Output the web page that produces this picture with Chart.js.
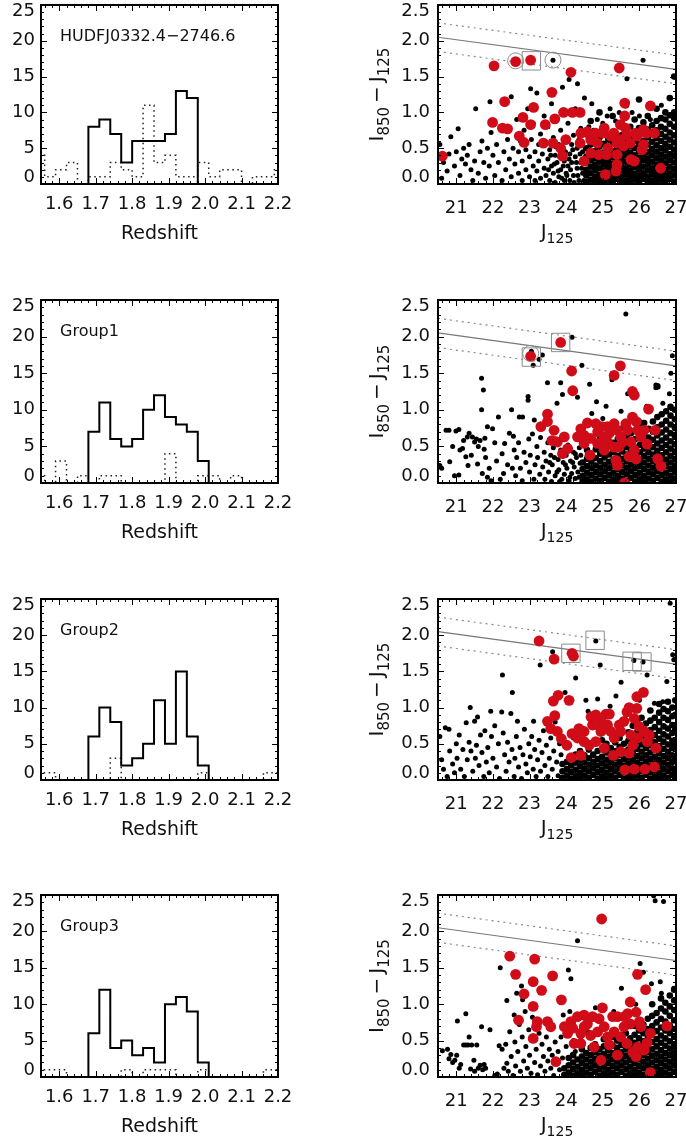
<!DOCTYPE html>
<html>
<head>
<meta charset="utf-8">
<title>HUDFJ0332.4-2746.6 and groups</title>
<script src="https://cdn.jsdelivr.net/npm/chart.js@4.4.1/dist/chart.umd.min.js"></script>
<style>
  html, body { margin: 0; background: #fff; }
  #fig { position: relative; width: 686px; height: 1137px; overflow: hidden; background: #fff; }
  #fig canvas { position: absolute; }
</style>
</head>
<body>
<div id="fig"></div>
<script>
// ---------- histogram data (redshift bins, counts) ----------
const zBins = [1.53, 1.56, 1.59, 1.62, 1.65, 1.68, 1.71, 1.74, 1.77, 1.80, 1.83, 1.86,
               1.89, 1.92, 1.95, 1.98, 2.01, 2.04, 2.07, 2.10, 2.13, 2.16, 2.19];
const zTicks = [1.6, 1.7, 1.8, 1.9, 2.0, 2.1, 2.2];
const countTicks = [0, 5, 10, 15, 20, 25];

const HUDF_SOLID = [0,0,0,0,0,8,9,7,3,6,6,6,7,13,12,0,0,0,0,0,0,0,0];
const HUDF_DOT   = [4,1,2,3,0,1,1,3,2,1,11,3,4,1,1,3,1,2,2,0,1,1,2];
const G1_SOLID   = [0,0,0,0,0,7,11,6,5,6,10,12,9,8,7,3,0,0,0,0,0,0,0];
const G1_DOT     = [1,0,3,0,1,0,1,1,0,0,0,0,4,0,0,1,1,0,1,0,0,0,0];
const G2_SOLID   = [0,0,0,0,0,6,10,8,2,3,5,11,5,15,6,2,0,0,0,0,0,0,0];
const G2_DOT     = [1,1,0,0,0,0,0,3,0,0,0,0,0,0,0,1,0,0,0,0,0,1,1];
const G3_SOLID   = [0,0,0,0,0,6,12,4,5,3,4,2,10,11,9,2,0,0,0,0,0,0,0];
const G3_DOT     = [1,1,1,0,0,0,0,0,1,0,1,1,1,0,0,1,0,0,0,0,0,1,1];

// ---------- colour-magnitude data (J125, I850-J125) ----------
const magTicks = [21, 22, 23, 24, 25, 26, 27];
const colorTicks = [0, 0.5, 1.0, 1.5, 2.0, 2.5];
const relX  = [20.5, 27];
const relMid = [2.05, 1.60];
const relHi  = [2.25, 1.80];
const relLo  = [1.85, 1.40];

// members (red), flat x,y pairs
const HUDF_RED = [20.62,.39, 22.03,1.65, 22.62,1.71, 23.03,1.73, 25.45,1.62, 24.13,1.56, 23.61,1.28, 22.32,1.15,
  23.11,1.07, 25.6,1.13, 26.3,1.09, 22.82,.93, 23.69,.91, 23.93,1.0, 24.17,1.0, 24.38,1.0, 25.6,.95, 21.99,.86,
  23.03,.83, 23.43,.83, 22.26,.78, 22.4,.77, 22.72,.67, 22.85,.58, 23.38,.57, 23.64,.57, 23.99,.62, 23.85,.5,
  23.9,.39, 24.4,.71, 24.38,.57, 24.58,.73, 24.67,.62, 24.8,.71, 24.85,.57, 24.99,.71, 25.04,.78, 25.22,.67,
  25.3,.71, 25.48,.83, 25.39,.57, 25.57,.53, 25.62,.78, 25.66,.69, 25.14,.5, 24.89,.41, 24.67,.43, 24.49,.32,
  25.1,.41, 25.39,.41, 25.77,.34, 25.86,.32, 25.39,.27, 25.36,.18, 25.07,.13, 25.89,.71, 26.11,.76, 25.94,.67,
  26.19,.71, 26.41,.71, 26.11,.55, 26.07,.48, 26.58,.22, 25.75,.57, 25.48,.62];
const G1_RED = [23.03,1.73, 23.85,1.92, 24.15,1.53, 24.18,1.26, 25.31,1.47, 25.48,1.6, 25.81,1.25, 25.86,1.2,
  26.25,1.01, 23.49,.94, 23.31,.77, 23.49,.84, 23.67,.72, 23.61,.58, 23.76,.56, 23.9,.4, 24.04,.47, 23.95,.63,
  24.4,.74, 24.49,.65, 24.58,.82, 24.67,.61, 24.65,.38, 24.81,.81, 24.86,.7, 24.97,.77, 25.04,.63, 25.13,.56,
  25.18,.68, 25.31,.81, 25.31,.49, 25.4,.72, 25.49,.63, 25.54,.56, 25.63,.81, 25.68,.72, 25.77,.56, 25.81,.9,
  25.91,.84, 25.95,.72, 26.04,.63, 26.13,.72, 26.21,.53, 26.43,.72, 25.36,.31, 25.4,.24, 25.72,.36, 25.91,.33,
  25.86,.45, 26.5,.33, 26.59,.23, 25.59,0.0, 25.04,.45, 24.86,.54, 24.49,.54, 24.31,.63, 25.13,.77, 25.44,.49];
const G2_RED = [23.26,1.92, 23.67,1.67, 24.16,1.75, 24.2,1.71, 23.65,1.09, 23.78,1.17, 24.08,1.1, 25.93,1.15,
  26.11,1.21, 23.49,.81, 23.69,.89, 23.58,.71, 23.76,.67, 23.87,.57, 24.02,.48, 24.14,.31, 24.4,.34, 24.16,.64,
  24.35,.71, 24.49,.53, 24.63,.48, 24.68,.87, 24.72,.76, 24.86,.76, 24.81,.53, 24.95,.67, 25.04,.44, 25.09,.91,
  25.18,.91, 25.13,.76, 25.22,.67, 25.31,.58, 25.29,.34, 25.45,.76, 25.49,.67, 25.58,.81, 25.66,.94, 25.72,1.0,
  25.77,.62, 25.82,.48, 25.49,.39, 25.72,.37, 25.6,.14, 25.86,.15, 26.15,.15, 26.41,.18, 25.86,.85, 25.93,.99,
  25.99,.74, 26.13,.67, 26.27,.62, 26.22,.53, 26.45,.44, 25.95,.58, 24.95,.85, 24.81,.9, 24.49,.67, 24.31,.58];
const G3_RED = [24.97,2.17, 22.46,1.66, 23.14,1.62, 22.62,1.41, 23.1,1.31, 23.63,1.39, 23.33,1.19, 22.85,1.14,
  23.87,1.06, 23.1,.97, 24.99,.95, 25.95,1.41, 26.17,1.2, 25.75,1.03, 22.7,.78, 23.21,.76, 23.19,.69, 23.1,.53,
  23.49,.76, 23.58,.69, 23.72,.21, 23.95,.69, 24.04,.6, 24.13,.76, 24.18,.67, 24.22,.46, 24.31,.83, 24.4,.6,
  24.49,.85, 24.58,.73, 24.67,.57, 24.76,.41, 24.72,.83, 24.9,.8, 24.95,.23, 24.86,.62, 25.04,.69, 25.13,.55,
  25.18,.44, 25.27,.83, 25.4,.83, 25.4,.3, 25.31,.62, 25.49,.55, 25.59,.83, 25.68,.87, 25.75,.73, 25.66,.46,
  25.82,.34, 25.91,.28, 25.91,.89, 26.0,.76, 26.04,.69, 25.95,.41, 26.13,.37, 26.21,.47, 26.3,.6, 26.75,.7,
  26.3,.06, 25.58,.69, 24.49,.69, 24.4,.46];

// field galaxies (black): scattered points as x,y pairs ...
const HUDF_FIELD = [20.55,.55, 20.6,.08, 20.65,.3, 20.75,.18, 20.8,.42, 20.85,.66, 20.95,.25, 21.0,.45, 21.05,.77,
  21.1,.12, 21.15,.35, 21.2,.5, 21.25,.28, 21.3,.4, 21.35,.55, 21.4,.2, 21.45,.05, 21.5,.32, 21.53,1.05, 21.6,.15,
  21.65,.45, 21.7,.6, 21.75,.3, 21.8,.08, 21.85,.5, 21.9,.25, 21.92,1.15, 21.95,.72, 22.0,.4, 22.05,.12, 22.1,.55,
  22.15,.3, 22.2,.8, 22.25,.05, 22.3,.45, 22.35,.2, 22.4,.62, 22.45,.35, 22.5,1.22, 22.5,.1, 22.55,.5, 22.6,.28,
  22.65,.9, 22.7,.15, 22.7,.45, 22.75,.6, 22.8,.05, 22.8,.32, 22.85,.75, 22.9,.2, 22.9,.48, 22.95,1.05, 23.0,.1,
  23.0,.38, 23.03,1.33, 23.05,.62, 23.1,.25, 23.1,.85, 23.15,.05, 23.15,.45, 23.2,1.27, 23.2,.18, 23.25,.55,
  23.25,.32, 23.3,.7, 23.3,.08, 23.35,.42, 23.4,.22, 23.4,.95, 23.45,.58, 23.45,.12, 23.5,.35, 23.5,.8, 23.55,.05,
  23.55,.48, 23.6,.25, 23.6,1.12, 23.64,1.73, 23.65,.65, 23.65,.15, 23.7,.4, 23.7,.02, 23.75,.3, 23.75,.9, 23.8,.55,
  23.8,.1, 23.85,.2, 23.85,.75, 23.9,.45, 23.9,1.35, 23.95,.05, 23.95,.32, 24.0,.6, 24.0,.15, 24.05,.25, 24.05,.85,
  24.08,1.46, 24.1,.42, 24.1,.05, 24.15,.55, 24.15,.3, 24.2,.12, 24.2,.68, 24.25,.38, 24.25,1.05, 24.3,.22, 24.3,.5,
  24.31,1.4, 24.35,.05, 24.35,.62, 24.4,.3, 24.4,.78, 24.45,.15, 24.45,.45, 24.5,1.2, 25.66,1.47, 26.1,1.73,
  26.82,1.2, 24.7,1.12, 25.2,1.05, 23.52,.2, 23.58,.4, 23.68,.28, 23.72,.52, 23.78,.18, 23.82,.38, 23.88,.08,
  23.92,.25, 23.98,.45, 24.02,.12, 24.08,.35, 24.12,.2, 24.18,.48, 24.22,.02, 24.28,.3, 24.32,.12, 24.38,.42,
  24.42,.22, 24.48,.05, 24.48,.35, 24.55,.68, 24.62,.8, 24.75,.75, 24.85,.9, 25.0,.85, 25.12,.95, 25.35,.88,
  25.45,1.0, 25.8,1.0, 26.0,.95, 26.3,.9, 26.6,1.1];
const G1_FIELD = [20.55,.24, 20.6,.2, 20.72,.72, 20.8,.72, 20.82,.29, 20.9,.5, 20.95,.1, 20.99,.71, 21.07,.73,
  21.07,.11, 21.1,.45, 21.17,.47, 21.2,.58, 21.26,.36, 21.3,.63, 21.32,.24, 21.35,.68, 21.41,.38, 21.44,.63,
  21.5,.56, 21.55,.6, 21.58,.26, 21.6,.5, 21.65,.58, 21.69,1.43, 21.69,1.0, 21.71,.13, 21.74,1.27, 21.76,.46,
  21.78,.61, 21.8,.35, 21.85,.77, 21.85,.08, 21.9,.2, 21.95,.03, 21.99,.74, 22.05,.55, 22.1,.3, 22.15,.9, 22.2,.05,
  22.25,.4, 22.29,.13, 22.32,.54, 22.4,.25, 22.45,.68, 22.51,1.0, 22.53,.2, 22.56,.64, 22.58,.45, 22.62,.1,
  22.65,.35, 22.7,.55, 22.72,.9, 22.75,.2, 22.8,.03, 22.81,.9, 22.85,.42, 22.9,.28, 22.96,1.18, 22.96,1.13,
  22.98,.6, 23.0,.15, 23.02,.38, 23.05,1.8, 23.08,.67, 23.1,1.61, 23.12,.05, 23.13,.86, 23.15,.25, 23.2,.5,
  23.22,.35, 23.26,1.69, 23.28,.12, 23.3,.62, 23.35,1.75, 23.36,.22, 23.4,.42, 23.42,.05, 23.45,.3, 23.49,1.37,
  23.5,.55, 23.52,.15, 23.58,.38, 23.6,.02, 23.62,.25, 23.65,.48, 23.7,.1, 23.72,.6, 23.75,1.09, 23.78,.32,
  23.8,.18, 23.85,1.37, 23.85,.45, 23.88,.05, 23.9,1.21, 23.92,.28, 23.95,.12, 24.0,.38, 24.02,.2, 24.05,.52,
  24.08,.03, 24.12,.3, 24.15,.13, 24.16,1.99, 24.2,.42, 24.22,.22, 24.25,.06, 24.28,.35, 24.31,1.17, 24.32,.15,
  24.36,.48, 24.38,.27, 24.43,1.61, 24.64,1.35, 24.83,1.11, 25.09,1.05, 25.25,1.41, 25.63,2.31, 25.68,1.22,
  26.45,1.34, 26.45,1.3, 26.64,1.09, 26.82,1.22, 26.86,1.5, 26.9,1.74, 25.0,.88, 24.7,.95, 25.5,.98, 26.2,1.05,
  23.55,.28, 23.68,.35, 23.75,.15, 23.82,.02, 23.98,.25, 24.1,.08, 24.18,.28, 24.25,.4, 24.35,.08, 24.4,.38,
  24.45,.55, 24.6,.6, 24.9,.62, 25.2,.7, 25.5,.75, 26.0,.85];
const G2_FIELD = [20.55,.6, 20.6,.28, 20.65,.15, 20.7,.72, 20.75,.05, 20.8,.7, 20.82,.4, 20.9,.22, 20.95,.1,
  21.0,.5, 21.02,.3, 21.08,.62, 21.12,.15, 21.18,.42, 21.22,.05, 21.27,.79, 21.3,.28, 21.35,.52, 21.38,1.0,
  21.4,.4, 21.45,.12, 21.5,.81, 21.52,.3, 21.55,.48, 21.58,.87, 21.62,.2, 21.66,.62, 21.7,.38, 21.75,.05,
  21.78,.68, 21.82,.25, 21.86,.45, 21.9,.1, 21.94,.95, 21.96,.6, 22.0,.3, 22.05,.75, 22.1,.18, 22.15,.5, 22.18,.02,
  22.24,.94, 22.26,1.45, 22.28,.65, 22.32,.35, 22.36,.12, 22.4,.52, 22.44,.25, 22.49,.92, 22.52,.42, 22.53,1.21,
  22.58,.05, 22.6,.3, 22.64,.6, 22.67,.81, 22.7,.18, 22.74,.45, 22.78,.02, 22.82,.35, 22.86,.7, 22.9,.22,
  22.94,.1, 22.98,.5, 23.02,.32, 23.06,.6, 23.1,.15, 23.11,.81, 23.14,.42, 23.18,.05, 23.22,.28, 23.26,.55,
  23.29,1.59, 23.3,.12, 23.34,.38, 23.38,.68, 23.42,.2, 23.46,.48, 23.5,.05, 23.54,.3, 23.58,.58, 23.62,.15,
  23.63,1.77, 23.66,.4, 23.7,.8, 23.74,.25, 23.78,.06, 23.82,.5, 23.86,.35, 23.97,1.21, 24.05,.48, 24.26,1.41,
  24.2,.58, 24.54,1.1, 24.81,1.92, 24.86,1.12, 24.93,1.59, 25.36,1.16, 25.5,1.35, 25.2,1.02, 24.6,.95, 26.21,1.45,
  26.41,1.06, 26.64,1.08, 26.75,1.36, 26.91,1.73, 26.94,1.66, 26.84,2.44, 26.0,1.1, 25.75,.95, 25.85,1.65,
  26.1,1.63];
const G3_FIELD = [20.62,.36, 20.76,.38, 20.8,.25, 20.85,.31, 20.9,.2, 20.96,.23, 21.01,.3, 21.03,.77, 21.08,.12,
  21.12,.17, 21.2,.44, 21.26,.87, 21.26,.44, 21.32,.44, 21.35,.55, 21.39,.11, 21.42,.44, 21.48,.23, 21.5,.08,
  21.56,.44, 21.6,.12, 21.65,.16, 21.69,.69, 21.72,.1, 21.76,.17, 21.8,.12, 21.92,.65, 22.05,.02, 22.12,.04,
  22.17,.43, 22.2,1.5, 22.25,.38, 22.3,.12, 22.35,.45, 22.38,1.05, 22.38,.19, 22.42,.08, 22.46,.62, 22.5,.28,
  22.55,.02, 22.58,.85, 22.6,.48, 22.62,.15, 22.65,1.15, 22.68,.35, 22.72,.72, 22.75,.08, 22.78,1.25, 22.8,.55,
  22.81,1.06, 22.84,.22, 22.88,.9, 22.9,.42, 22.94,.12, 22.98,.65, 23.0,.3, 23.04,.05, 23.08,.82, 23.1,.5,
  23.14,.2, 23.18,.38, 23.22,.03, 23.26,.6, 23.3,.15, 23.34,.45, 23.38,.28, 23.42,.08, 23.46,.55, 23.5,.22,
  23.54,.38, 23.58,.12, 23.62,.3, 23.66,.02, 23.7,.48, 23.74,.2, 23.78,.35, 23.82,.1, 23.86,.55, 23.9,.26,
  23.92,.85, 24.0,.42, 24.06,1.47, 24.1,.9, 24.13,1.35, 24.2,.5, 24.31,1.87, 24.25,.35, 24.4,.55, 24.6,.62,
  25.0,.65, 24.8,.95, 25.51,1.22, 26.02,1.56, 26.11,1.44, 26.33,1.28, 26.57,1.31, 26.94,1.22, 26.39,2.49,
  26.43,2.42, 26.66,2.41, 25.3,.9, 25.9,1.0, 26.6,1.15];

// ... and the crowded faint end, as columns [J125, colours...]
const HUDF_CORE = [
  [24.55, .03,.12,.20,.30,.38,.50], [24.67, .06,.15,.24,.33,.42,.55,.88], [24.79, .02,.10,.19,.27,.36,.46,.60],
  [24.91, .05,.13,.22,.31,.40,.52,.65,1.0], [25.03, .02,.10,.18,.27,.35,.44,.56,.78],
  [25.15, .06,.14,.23,.31,.40,.50,.62], [25.27, .03,.11,.20,.28,.37,.46,.58,.72,.95],
  [25.39, .07,.15,.24,.33,.42,.52,.64], [25.51, .02,.10,.19,.28,.36,.45,.55,.68,.85],
  [25.63, .05,.14,.22,.31,.40,.49,.60,.74,1.1], [25.75, .02,.10,.18,.27,.35,.44,.53,.65,.80],
  [25.87, .06,.14,.23,.32,.40,.50,.60,.70,.90], [25.99, .03,.11,.20,.28,.37,.46,.56,.66,.78,1.18],
  [26.11, .07,.15,.24,.33,.42,.51,.60,.72,.86], [26.23, .02,.10,.19,.28,.36,.45,.55,.65,.76,.95],
  [26.35, .05,.14,.22,.31,.40,.49,.59,.70,.82], [26.47, .02,.10,.18,.27,.36,.45,.54,.64,.75,.88,1.05],
  [26.59, .06,.14,.23,.32,.41,.50,.60,.70,.80,.92], [26.71, .03,.11,.20,.29,.38,.47,.56,.66,.77,.90,1.0],
  [26.83, .07,.15,.24,.33,.42,.52,.62,.72,.84,.96,1.2], [26.95, .03,.12,.21,.30,.39,.48,.58,.68,.80,.92,1.0,1.5]];
const G1_CORE = [
  [24.45, .02,.10,.19,.28], [24.57, .05,.14,.23,.33,.45], [24.69, .02,.11,.20,.29,.40],
  [24.81, .06,.15,.24,.34,.46], [24.93, .03,.12,.21,.30,.40,.52], [25.05, .07,.16,.25,.35,.47],
  [25.17, .02,.11,.20,.29,.39,.50], [25.29, .05,.14,.23,.32,.42,.55], [25.41, .02,.10,.19,.28,.37,.47,.60],
  [25.53, .06,.15,.24,.33,.43,.54], [25.65, .03,.12,.21,.30,.39,.49,.62], [25.77, .07,.16,.25,.34,.44,.55,.68],
  [25.89, .02,.11,.20,.29,.38,.48,.60,.72], [26.01, .05,.14,.23,.32,.42,.52,.64,.78],
  [26.13, .02,.10,.19,.28,.37,.47,.57,.68,.82], [26.25, .06,.15,.24,.33,.42,.52,.62,.74],
  [26.37, .03,.12,.21,.30,.39,.49,.59,.70,.84], [26.49, .07,.16,.25,.34,.44,.54,.65,.76,.90,1.32],
  [26.61, .02,.11,.20,.29,.38,.48,.58,.69,.80,.94], [26.73, .05,.14,.23,.32,.42,.52,.62,.73,.85,.98],
  [26.85, .02,.10,.19,.28,.37,.47,.57,.68,.80,.92,1.04], [26.97, .06,.15,.24,.33,.43,.53,.64,.75,.87,1.0]];
const G2_CORE = [
  [23.90, .03,.12,.22], [24.02, .06,.15,.25], [24.14, .02,.11,.20,.30], [24.26, .05,.14,.24,.35],
  [24.38, .02,.10,.19,.28,.40], [24.50, .06,.15,.24,.34], [24.62, .03,.12,.21,.30,.42], [24.74, .07,.16,.25,.35],
  [24.86, .02,.11,.20,.29,.40], [24.98, .05,.14,.23,.32,.43,.55], [25.10, .02,.10,.19,.28,.38,.50],
  [25.22, .06,.15,.24,.33,.44], [25.34, .03,.12,.21,.30,.40,.52], [25.46, .07,.16,.25,.35,.46,.58],
  [25.58, .02,.11,.20,.29,.39,.50], [25.70, .05,.14,.23,.32,.42,.54,.66], [25.82, .02,.10,.19,.28,.37,.47,.60,.75],
  [25.94, .06,.15,.24,.33,.43,.54,.66,.80], [26.06, .03,.12,.21,.30,.39,.49,.60,.72,.86],
  [26.18, .07,.16,.25,.34,.44,.55,.66,.78], [26.30, .02,.11,.20,.29,.38,.48,.58,.69,.82,.96],
  [26.42, .05,.14,.23,.32,.42,.52,.62,.73,.86], [26.54, .02,.10,.19,.28,.37,.47,.57,.68,.80,.93,1.05],
  [26.66, .06,.15,.24,.33,.43,.53,.63,.74,.86,.98], [26.78, .03,.12,.21,.30,.39,.49,.60,.71,.83,.95,1.08],
  [26.90, .07,.16,.25,.34,.44,.54,.65,.76,.88,1.0], [26.98, .02,.12,.30,.50,.70,.90,1.1]];
const G3_CORE = [
  [23.95, .03,.12], [24.07, .06,.16,.26], [24.19, .02,.11,.20,.30], [24.31, .05,.14,.24],
  [24.43, .02,.10,.19,.28,.38], [24.55, .06,.15,.24,.33], [24.67, .03,.12,.21,.30,.40], [24.79, .07,.16,.25,.34,.45],
  [24.91, .02,.11,.20,.29,.38], [25.03, .05,.14,.23,.32,.42,.52], [25.15, .02,.10,.19,.28,.37],
  [25.27, .06,.15,.24,.33,.43,.55], [25.39, .03,.12,.21,.30,.40,.50], [25.51, .07,.16,.25,.34,.44,.58],
  [25.63, .02,.11,.20,.29,.38,.48,.60], [25.75, .05,.14,.23,.32,.42,.53], [25.87, .02,.10,.19,.28,.37,.47,.58,.70],
  [25.99, .06,.15,.24,.33,.43,.53,.64], [26.11, .03,.12,.21,.30,.39,.49,.60,.72],
  [26.23, .07,.16,.25,.34,.44,.55,.66,.80], [26.35, .02,.11,.20,.29,.38,.48,.59,.70,.84,1.0],
  [26.47, .05,.14,.23,.32,.42,.52,.63,.75,.88], [26.59, .02,.10,.19,.28,.37,.47,.57,.68,.80,.94,1.08],
  [26.71, .06,.15,.24,.33,.43,.53,.64,.76,.90,1.02], [26.83, .03,.12,.21,.30,.39,.49,.60,.71,.84,.97,1.12],
  [26.95, .07,.16,.25,.34,.44,.55,.66,.78,.92,1.05,1.2]];

// highlighted objects (open circles / squares)
const HUDF_CIRC = [22.62,1.72, 23.64,1.73];
const HUDF_SQ   = [23.05,1.72];
const G1_CIRC   = [23.03,1.77];
const G1_SQ     = [23.05,1.72, 23.85,1.92];
const G2_CIRC   = [];
const G2_SQ     = [24.13,1.75, 24.79,1.93, 25.8,1.64, 26.07,1.63];
const G3_CIRC   = [];
const G3_SQ     = [];

// ---------- helpers ----------
const FONT = 'DejaVu Sans';
Chart.defaults.font.family = FONT;
Chart.defaults.color = '#111';

const pairs = a => {
  const out = [];
  for (let i = 0; i < a.length; i += 2) out.push({x: a[i], y: a[i + 1]});
  return out;
};
const columns = cols => {
  const out = [];
  cols.forEach(c => c.slice(1).forEach(y => out.push({x: c[0], y})));
  return out;
};
const steps = (edges, counts) => {
  const pts = edges.map((e, i) => ({x: e, y: counts[i]}));
  pts.push({x: edges[edges.length - 1] + (edges[1] - edges[0]), y: counts[counts.length - 1]});
  return pts;
};
const line = (ys) => relX.map((x, i) => ({x, y: ys[i]}));

// end labels nudged inward (two-line trick), like the original plot
const edgeLabel = fmt => (v, i, t) => {
  const s = fmt(v);
  if (i === t.length - 1) return ['', s];
  if (i === 0) return [s, ''];
  return s;
};

function drawRich(ctx, text, x, y, size, subSize, drop) {
  const parts = [];
  const re = /_\{([^}]*)\}|[^_]+/g;
  let m;
  while ((m = re.exec(text)) !== null) {
    parts.push(m[1] !== undefined ? {t: m[1], sub: true} : {t: m[0], sub: false});
  }
  let w = 0;
  parts.forEach(p => {
    ctx.font = (p.sub ? subSize : size) + 'px "' + FONT + '"';
    p.w = ctx.measureText(p.t).width;
    w += p.w;
  });
  let cx = x - w / 2;
  parts.forEach(p => {
    ctx.font = (p.sub ? subSize : size) + 'px "' + FONT + '"';
    ctx.fillText(p.t, cx, y + (p.sub ? drop : 0));
    cx += p.w;
  });
}

// IDL-like box: frame, inward ticks on all four sides, labels
const idlFrame = {
  id: 'idlFrame',
  afterDraw(chart, args, o) {
    const {ctx, chartArea: a} = chart;
    const xs = chart.scales.x, ys = chart.scales.y;
    ctx.save();
    ctx.strokeStyle = '#000';
    ctx.lineWidth = 1;
    ctx.beginPath();
    const xTick = (v, len) => {
      const p = Math.round(xs.getPixelForValue(v)) + 0.5;
      ctx.moveTo(p, a.bottom); ctx.lineTo(p, a.bottom - len);
      ctx.moveTo(p, a.top); ctx.lineTo(p, a.top + len);
    };
    const yTick = (v, len) => {
      const p = Math.round(ys.getPixelForValue(v)) + 0.5;
      ctx.moveTo(a.left, p); ctx.lineTo(a.left + len, p);
      ctx.moveTo(a.right, p); ctx.lineTo(a.right - len, p);
    };
    const minor = (s, step, fn) => {
      for (let k = Math.ceil(s.min / step - 1e-6); k <= Math.floor(s.max / step + 1e-6); k++) fn(k * step, 3);
    };
    minor(xs, o.xMinor, xTick);
    minor(ys, o.yMinor, yTick);
    xs.ticks.forEach(t => xTick(t.value, 6));
    ys.ticks.forEach(t => yTick(t.value, 6));
    ctx.stroke();
    ctx.lineWidth = 2;
    ctx.strokeRect(a.left, a.top, a.right - a.left, a.bottom - a.top);

    ctx.fillStyle = '#111';
    ctx.textAlign = 'left';
    ctx.textBaseline = 'alphabetic';
    if (o.name) {
      ctx.font = '16px "' + FONT + '"';
      ctx.fillText(o.name, a.left + 19, a.top + 36);
    }
    drawRich(ctx, o.xTitle, (a.left + a.right) / 2, a.bottom + o.xTitleDy, o.xTitleSize, 14, 5);
    if (o.yTitle) {
      ctx.translate(a.left - 55, (a.top + a.bottom) / 2);
      ctx.rotate(-Math.PI / 2);
      drawRich(ctx, o.yTitle, 0, 0, 20, 15, 6);
    }
    ctx.restore();
  }
};

const fig = document.getElementById('fig');
function makeCanvas(left, top, w, h) {
  const cv = document.createElement('canvas');
  cv.width = w; cv.height = h;
  cv.style.left = left + 'px'; cv.style.top = top + 'px';
  cv.style.width = w + 'px'; cv.style.height = h + 'px';
  fig.appendChild(cv);
  return cv;
}

const common = {
  responsive: false,
  animation: false,
  events: [],
  plugins: {legend: {display: false}, tooltip: {enabled: false}}
};

function histChart(row) {
  const cv = makeCanvas(0, row.top - 15, 300, 15 + row.h + 75);
  new Chart(cv, {
    type: 'line',
    data: {
      datasets: [
        {data: steps(zBins, row.solid), borderColor: '#000', borderWidth: 2, stepped: true, pointRadius: 0},
        {data: steps(zBins, row.dot), borderColor: '#222', borderWidth: 1.5, borderDash: [1.5, 3.5],
         stepped: true, pointRadius: 0}
      ]
    },
    options: {
      ...common,
      layout: {padding: {top: 15, left: 0, right: 22, bottom: 0}, autoPadding: false},
      plugins: {...common.plugins,
        idlFrame: {name: row.name, xTitle: 'Redshift', xTitleDy: 55, xTitleSize: 19, xMinor: 0.02, yMinor: 1}},
      scales: {
        x: {
          type: 'linear', min: 1.55, max: 2.2,
          grid: {display: false, drawTicks: false}, border: {display: false},
          afterBuildTicks: s => { s.ticks = zTicks.map(v => ({value: v})); },
          ticks: {callback: v => v.toFixed(1), padding: 10, font: {size: 18}, autoSkip: false, maxRotation: 0},
          afterFit: s => { s.height = 75; s.paddingLeft = 0; s.paddingRight = 0; }
        },
        y: {
          type: 'linear', min: 0, max: 25,
          grid: {display: false, drawTicks: false}, border: {display: false},
          afterBuildTicks: s => { s.ticks = countTicks.map(v => ({value: v})); },
          ticks: {callback: edgeLabel(v => String(v)), padding: 6, font: {size: 18, lineHeight: 0.75}, autoSkip: false},
          afterFit: s => { s.width = 41; s.paddingTop = 0; s.paddingBottom = 0; }
        }
      }
    },
    plugins: [idlFrame]
  });
}

function cmdChart(row) {
  const cv = makeCanvas(340, row.top - 15, 346, 15 + row.h + 75);
  const RED = 'rgb(208,12,24)';
  new Chart(cv, {
    type: 'scatter',
    data: {
      datasets: [
        {data: pairs(row.circ), pointStyle: 'circle', pointRadius: 8, backgroundColor: 'rgba(0,0,0,0)',
         borderColor: '#8c8c8c', borderWidth: 1, order: 0},
        {data: pairs(row.sq), pointStyle: 'rect', pointRadius: 13, backgroundColor: 'rgba(0,0,0,0)',
         borderColor: '#8c8c8c', borderWidth: 1, order: 0},
        {data: pairs(row.red), pointRadius: 5.4, backgroundColor: RED, borderWidth: 0, order: 1, clip: 0},
        {data: pairs(row.field), pointRadius: 2.5, backgroundColor: '#000', borderWidth: 0, order: 2, clip: 0},
        {data: columns(row.core), pointRadius: 3.3, backgroundColor: '#000', borderWidth: 0, order: 2, clip: 0},
        {data: line(relMid), showLine: true, pointRadius: 0, borderColor: '#777', borderWidth: 1.2, order: 3},
        {data: line(relHi), showLine: true, pointRadius: 0, borderColor: '#888', borderWidth: 1.2,
         borderDash: [2, 4], order: 3},
        {data: line(relLo), showLine: true, pointRadius: 0, borderColor: '#888', borderWidth: 1.2,
         borderDash: [2, 4], order: 3}
      ]
    },
    options: {
      ...common,
      layout: {padding: {top: 15, left: 0, right: 10, bottom: 0}, autoPadding: false},
      plugins: {...common.plugins,
        idlFrame: {xTitle: 'J_{125}', xTitleDy: 54, xTitleSize: 20, yTitle: 'I_{850}\u2009\u2212\u2009J_{125}',
                   xMinor: 0.2, yMinor: 0.1}},
      scales: {
        x: {
          type: 'linear', min: 20.5, max: 27,
          grid: {display: false, drawTicks: false}, border: {display: false},
          afterBuildTicks: s => { s.ticks = magTicks.map(v => ({value: v})); },
          ticks: {callback: v => String(v), padding: 14, font: {size: 18}, autoSkip: false, maxRotation: 0},
          afterFit: s => { s.height = 75; s.paddingLeft = 0; s.paddingRight = 0; }
        },
        y: {
          type: 'linear', min: 0, max: 2.5,
          grid: {display: false, drawTicks: false}, border: {display: false},
          afterBuildTicks: s => { s.ticks = colorTicks.map(v => ({value: v})); },
          ticks: {callback: edgeLabel(v => v.toFixed(1)), padding: 8, font: {size: 18, lineHeight: 0.75}, autoSkip: false},
          afterFit: s => { s.width = 98; s.paddingTop = 0; s.paddingBottom = 0; }
        }
      }
    },
    plugins: [idlFrame]
  });
}

const ROWS = [
  {top: 5,   h: 179, name: 'HUDFJ0332.4\u22122746.6', solid: HUDF_SOLID, dot: HUDF_DOT,
   red: HUDF_RED, field: HUDF_FIELD, core: HUDF_CORE, circ: HUDF_CIRC, sq: HUDF_SQ},
  {top: 300, h: 183, name: 'Group1', solid: G1_SOLID, dot: G1_DOT,
   red: G1_RED, field: G1_FIELD, core: G1_CORE, circ: G1_CIRC, sq: G1_SQ},
  {top: 599, h: 181, name: 'Group2', solid: G2_SOLID, dot: G2_DOT,
   red: G2_RED, field: G2_FIELD, core: G2_CORE, circ: G2_CIRC, sq: G2_SQ},
  {top: 895, h: 182, name: 'Group3', solid: G3_SOLID, dot: G3_DOT,
   red: G3_RED, field: G3_FIELD, core: G3_CORE, circ: G3_CIRC, sq: G3_SQ}
];

ROWS.forEach(r => { histChart(r); cmdChart(r); });
</script>
</body>
</html>
